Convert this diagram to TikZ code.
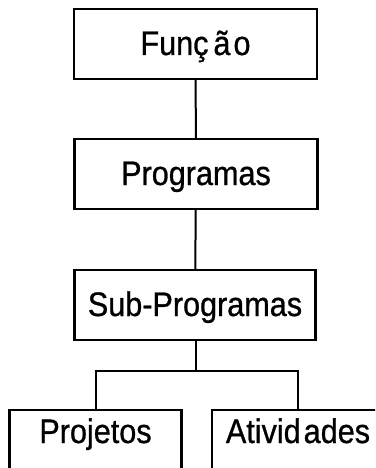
\documentclass[tikz,border=0pt]{standalone}
\usepackage{fontspec}
\setmainfont{Liberation Sans}[FakeStretch=0.9, FakeBold=0.8]
\begin{document}
\begin{tikzpicture}[
        x=1pt, y=-1pt,
        box/.style={rectangle, draw, line width=2.2pt, minimum width=243pt, minimum height=70pt, text height=23pt, text depth=1pt, align=center, font=\fontsize{34}{40}\selectfont},
        leaf/.style={box, minimum width=172pt, minimum height=0pt, text height=30pt, text depth=30pt},
        link/.style={line width=2pt}
    ]
        \clip (0,0) rectangle (375,468);
        \useasboundingbox (0,0) rectangle (375,468);
        % Main chain
        \node[box] (funcao) at (195.5, 44) {Funç\hspace{5pt}ã\hspace{3pt}o};
        \node[box] (programas) at (196, 174) {Programas};
        \node[box, minimum width=241pt] (subprog) at (195, 305) {Sub-Programas};
        
        % Leaves (cut by the page edge)
        \node[leaf] (projetos) at (95.5, 443) {Projetos};
        \node[leaf] (atividades) at (298, 443) {Ativid\hspace{3pt}ades};
        
        % Connectors
        \draw[link] (funcao) -- (programas);
        \draw[link] (programas) -- (subprog);
        \coordinate (split) at (196, 371);
        \draw[link] (subprog.south -| split) -- (split);
        \draw[link] (split) -| (projetos.north);
        \draw[link] (split) -| (atividades.north);
        
    \end{tikzpicture}
\end{document}
